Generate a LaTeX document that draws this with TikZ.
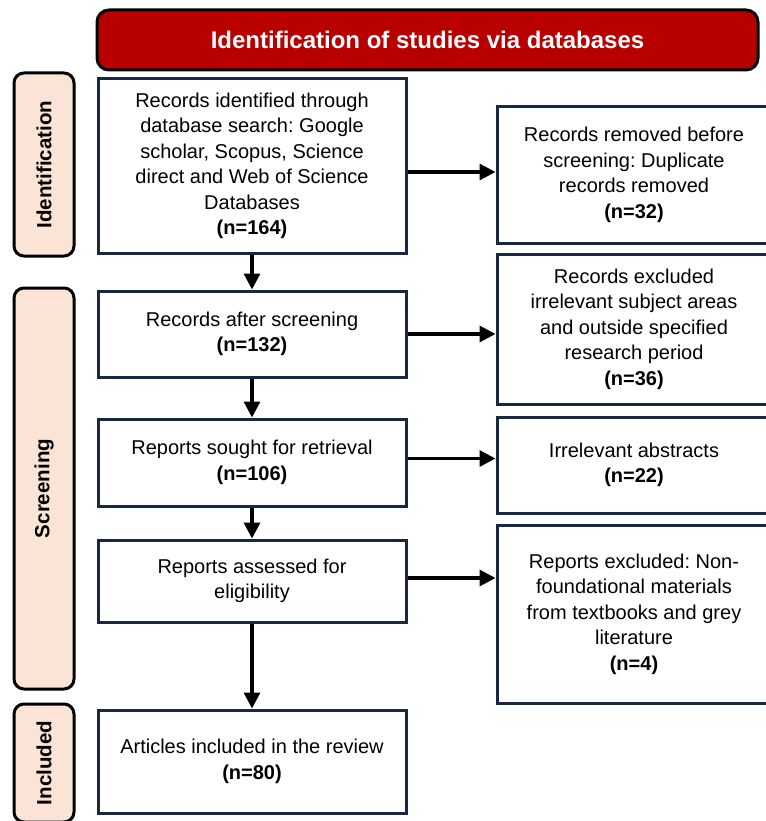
\documentclass[tikz,border=0pt]{standalone}
\usepackage{fontspec}
\setmainfont{Liberation Sans}
\usetikzlibrary{arrows.meta}
\frenchspacing
\definecolor{headred}{HTML}{B80000}
\definecolor{peach}{HTML}{FBE3D6}
\definecolor{navy}{HTML}{1A2740}
\tikzset{
  box/.style={draw=navy, line width=3pt, fill=white, align=center, inner sep=0pt, font=\fontsize{20}{25.5}\selectfont},
  sidebox/.style={draw=black, line width=3pt, fill=peach, rounded corners=10pt, rotate=90, font=\fontsize{20.5}{24}\selectfont\bfseries},
  arr/.style={line width=3.2pt, -{Triangle[length=16pt,width=16pt]}}
}
\begin{document}
\begin{tikzpicture}[x=1pt, y=-1pt]
    \useasboundingbox (0, 0) rectangle (765, 821);

    \node[draw=black, line width=3pt, fill=headred, rounded corners=12pt, minimum width=661pt, minimum height=60pt, text=white, font=\fontsize{24}{28}\selectfont\bfseries] (head) at (427.5, 40) {Identification of studies via databases};

    \node[sidebox, minimum width=183pt, minimum height=60pt] (sideid) at (44, 164.5) {Identification};
    \node[sidebox, minimum width=401pt, minimum height=60pt] (sidescr) at (44, 488.5) {Screening};
    \node[sidebox, minimum width=118pt, minimum height=60pt] (sideinc) at (44, 763) {Included};

    \node[box, minimum width=308pt, minimum height=174pt] (ident) at (252, 166) {Records identified through\\database search: Google\\scholar, Scopus, Science\\direct and Web of Science\\Databases\\\textbf{(n=164)}};
    \node[box, minimum width=308pt, minimum height=86pt] (screen) at (252, 334) {Records after screening\\\textbf{(n=132)}};
    \node[box, minimum width=308pt, minimum height=87pt] (sought) at (252, 462.5) {Reports sought for retrieval\\\textbf{(n=106)}};
    \node[box, minimum width=308pt, minimum height=82pt] (assess) at (252, 581) {Reports assessed for\\eligibility};
    \node[box, minimum width=308pt, minimum height=103pt] (incl) at (252, 761.5) {Articles included in the review\\\textbf{(n=80)}};

    \node[box, minimum width=274pt, minimum height=136pt] (removed) at (634, 175) {Records removed before\\screening: Duplicate\\records removed\\\textbf{(n=32)}};
    \node[box, minimum width=274pt, minimum height=150pt] (exclrec) at (634, 329) {Records excluded\\irrelevant subject areas\\and outside specified\\research period\\\textbf{(n=36)}};
    \node[box, minimum width=274pt, minimum height=96pt] (abstr) at (634, 465) {Irrelevant abstracts\\\textbf{(n=22)}};
    \node[box, minimum width=274pt, minimum height=178pt] (exclrep) at (634, 614) {Reports excluded: Non-\\foundational materials\\from textbooks and grey\\literature\\\textbf{(n=4)}};

    % downward flow
    \draw[arr] (ident.south) -- (screen.north);
    \draw[arr] (screen.south) -- (sought.north);
    \draw[arr] (sought.south) -- (assess.north);
    \draw[arr] (assess.south) -- (incl.north);

    % exclusions to the right
    \draw[arr] ([yshift=-6pt]ident.east) -- ([yshift=-6pt]ident.east -| removed.west);
    \draw[arr] (screen.east) -- (screen.east -| exclrec.west);
    \draw[arr] ([yshift=4pt]sought.east) -- ([yshift=4pt]sought.east -| abstr.west);
    \draw[arr] ([yshift=3pt]assess.east) -- ([yshift=3pt]assess.east -| exclrep.west);
\end{tikzpicture}
\end{document}
